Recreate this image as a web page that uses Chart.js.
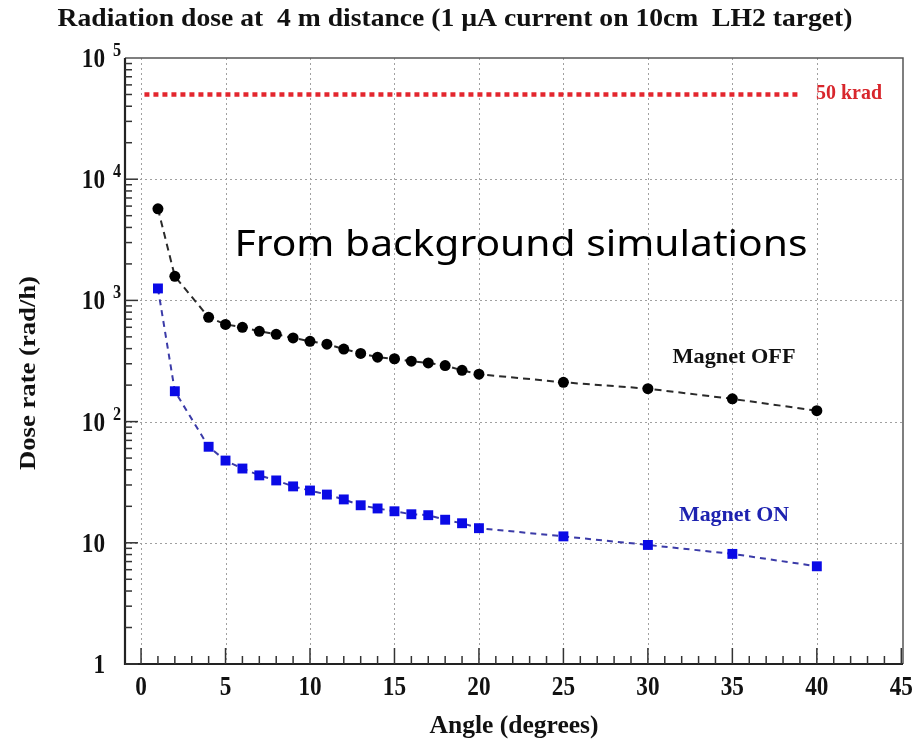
<!DOCTYPE html>
<html><head><meta charset="utf-8">
<script src="https://cdn.jsdelivr.net/npm/chart.js@4"></script>
<style>html,body{margin:0;padding:0;background:#fff;}#wrap{width:921px;height:742px;position:relative;}</style>
</head><body><div id="wrap"><canvas id="c" width="921" height="742"></canvas></div>
<script>
// ---- data ----
const angles = [1,2,4,5,6,7,8,9,10,11,12,13,14,15,16,17,18,19,20,25,30,35,40];
const doseMagnetOff = [5700,1580,725,634,600,556,525,490,460,435,397,365,340,330,315,305,290,265,246,211,187,154,123];
const doseMagnetOn = [1255,178,62,47.7,41,36,32.7,29.2,27,25,22.8,20.4,19.2,18.2,17.2,16.9,15.5,14.5,13.2,11.3,9.6,8.1,6.4];
const limitAngles = [0.2, 39];
const limitDose = [50000, 50000];
const xTickValues = [0,5,10,15,20,25,30,35,40,45];
const xTickLabels = ['0','5','10','15','20','25','30','35','40','45'];
const yTickValues = [1,10,100,1000,10000,100000];
const yTickBase = ['1','10','10','10','10','10'];
const yTickExp = ['','','2','3','4','5'];

const titleText = 'Radiation dose at  4 m distance (1 \u00b5A current on 10cm  LH2 target)';
const xTitle = 'Angle (degrees)';
const yTitle = 'Dose rate (rad/h)';

const toPts = (xs, ys) => xs.map((v, i) => ({x: v, y: ys[i]}));
const SERIF = '"Liberation Serif","DejaVu Serif",serif';

function fitText(ctx, txt, cx, cy, width, font, color) {
  ctx.save();
  ctx.font = font; ctx.fillStyle = color;
  ctx.textAlign = 'center'; ctx.textBaseline = 'middle';
  const w = ctx.measureText(txt).width;
  ctx.translate(cx, cy); ctx.scale(width / w, 1);
  ctx.fillText(txt, 0, 0);
  ctx.restore();
}
function squeezeText(ctx, txt, x, y, sx, align, baseline) {
  ctx.save();
  ctx.textAlign = align; ctx.textBaseline = baseline;
  ctx.translate(x, y); ctx.scale(sx, 1);
  ctx.fillText(txt, 0, 0);
  ctx.restore();
}

const rootAxes = {
  id: 'rootAxes',
  beforeDatasetsDraw(chart) {
    const {ctx, chartArea: a, scales: {x, y}} = chart;
    ctx.save();
    ctx.strokeStyle = '#a0a0a0'; ctx.lineWidth = 1; ctx.setLineDash([2, 3]);
    xTickValues.forEach(v => {
      const px = Math.round(x.getPixelForValue(v)) + 0.5;
      if (px < a.right - 3) { ctx.beginPath(); ctx.moveTo(px, a.top); ctx.lineTo(px, a.bottom); ctx.stroke(); }
    });
    yTickValues.forEach(v => {
      const py = Math.round(y.getPixelForValue(v)) + 0.5;
      if (py > a.top + 3 && py < a.bottom - 3) { ctx.beginPath(); ctx.moveTo(a.left, py); ctx.lineTo(a.right, py); ctx.stroke(); }
    });
    ctx.restore();
  },
  afterDatasetsDraw(chart) {
    const {ctx, chartArea: a, scales: {x, y}} = chart;
    ctx.save();
    ctx.setLineDash([]);
    // frame
    ctx.strokeStyle = '#555'; ctx.lineWidth = 1.5;
    ctx.beginPath(); ctx.moveTo(a.left, a.top); ctx.lineTo(a.right, a.top); ctx.lineTo(a.right, a.bottom); ctx.stroke();
    ctx.strokeStyle = '#222'; ctx.lineWidth = 2.2;
    ctx.beginPath(); ctx.moveTo(a.left, a.top); ctx.lineTo(a.left, a.bottom); ctx.lineTo(a.right, a.bottom); ctx.stroke();
    // x ticks
    ctx.lineWidth = 1.5; ctx.strokeStyle = '#333';
    for (let v = 0; v <= 45; v++) {
      const px = x.getPixelForValue(v);
      const len = (v % 5 === 0) ? 16 : 8;
      ctx.beginPath(); ctx.moveTo(px, a.bottom); ctx.lineTo(px, a.bottom - len); ctx.stroke();
    }
    // y ticks
    for (let d = 1; d <= 10000; d *= 10) {
      for (let m = 1; m <= 9; m++) {
        const py = y.getPixelForValue(d * m);
        const len = m === 1 ? 13 : 7;
        ctx.beginPath(); ctx.moveTo(a.left, py); ctx.lineTo(a.left + len, py); ctx.stroke();
      }
    }
    // x labels
    ctx.fillStyle = '#111';
    ctx.font = 'bold 27px ' + SERIF;
    xTickValues.forEach((v, i) => squeezeText(ctx, xTickLabels[i], x.getPixelForValue(v), a.bottom + 24, 0.86, 'center', 'middle'));
    // y labels
    yTickValues.forEach((v, i) => {
      const py = y.getPixelForValue(v);
      ctx.font = 'bold 27px ' + SERIF;
      squeezeText(ctx, yTickBase[i], 105, py + 2, 0.86, 'right', 'middle');
      if (yTickExp[i]) {
        ctx.font = 'bold 18px ' + SERIF;
        squeezeText(ctx, yTickExp[i], 113, py - 2, 0.9, 'left', 'alphabetic');
      }
    });
    // axis titles
    fitText(ctx, xTitle, 514, 726, 169, 'bold 26px ' + SERIF, '#111');
    ctx.save(); ctx.translate(29, 373); ctx.rotate(-Math.PI / 2);
    fitText(ctx, yTitle, 0, 0, 194, 'bold 24px ' + SERIF, '#111');
    ctx.restore();
    // title
    fitText(ctx, titleText, 455, 19, 795, 'bold 26px ' + SERIF, '#111');
    // annotations
    fitText(ctx, '50 krad', 849, 93, 66, 'bold 22px ' + SERIF, '#d8262c');
    fitText(ctx, 'Magnet OFF', 734, 357, 123, 'bold 22px ' + SERIF, '#111');
    fitText(ctx, 'Magnet ON', 734, 515, 110, 'bold 22px ' + SERIF, '#1e22b0');
    fitText(ctx, 'From background simulations', 521, 245, 573, '37px "Noto Sans", "Liberation Sans", sans-serif', '#000');
    ctx.restore();
  }
};

new Chart(document.getElementById('c'), {
  type: 'scatter',
  data: {
    datasets: [
      { label: '50 krad', data: toPts(limitAngles, limitDose), showLine: true,
        borderColor: '#e3262e', borderWidth: 4.5, borderDash: [5, 4], pointRadius: 0 },
      { label: 'Magnet OFF', data: toPts(angles, doseMagnetOff), showLine: true,
        borderColor: '#2a2a2a', borderWidth: 2, borderDash: [7, 5],
        pointStyle: 'circle', pointRadius: 5.5, pointBackgroundColor: '#000', pointBorderColor: '#000', pointBorderWidth: 0 },
      { label: 'Magnet ON', data: toPts(angles, doseMagnetOn), showLine: true,
        borderColor: '#3b3ba8', borderWidth: 2, borderDash: [6, 5],
        pointStyle: 'rect', pointRadius: 7, pointBackgroundColor: '#0a0ae6', pointBorderColor: '#0a0ae6', pointBorderWidth: 0 }
    ]
  },
  options: {
    responsive: false, devicePixelRatio: 1, animation: false,
    layout: { padding: { left: 125, top: 58, right: 18, bottom: 78 } },
    plugins: { legend: { display: false }, title: { display: false }, tooltip: { enabled: false } },
    scales: {
      x: { type: 'linear', min: -0.95, max: 45.1, display: false },
      y: { type: 'logarithmic', min: 1, max: 100000, display: false }
    }
  },
  plugins: [rootAxes]
});
</script>
</body></html>
